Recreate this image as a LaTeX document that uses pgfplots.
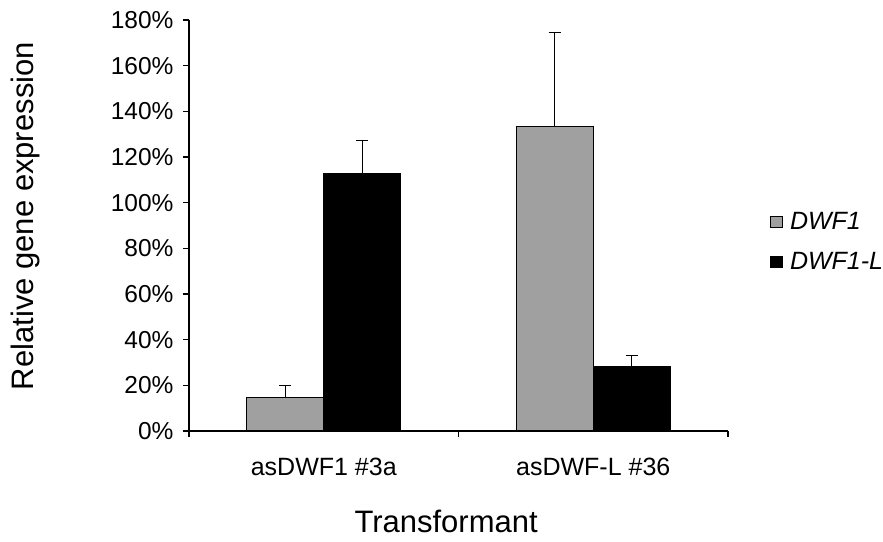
\documentclass[border=0pt]{standalone}
\usepackage{fontspec}
\setmainfont{Liberation Sans}
\usepackage{pgfplots}
\pgfplotsset{compat=1.18}
\definecolor{barGray}{RGB}{160,160,160}
\begin{document}
\begin{tikzpicture}
\useasboundingbox (0,0) rectangle (883pt,541pt);
\begin{axis}[
    at={(189pt,110pt)}, anchor=south west,
    width=539pt, height=411pt, scale only axis,
    axis lines=left,
    axis line style={-, line width=1.2pt},
    xmin=-0.5, xmax=1.5, ymin=0, ymax=180,
    ybar=0pt, bar width=0.286,
    ytick={0,20,...,180},
    yticklabels={0\%,20\%,40\%,60\%,80\%,100\%,120\%,140\%,160\%,180\%},
    xtick={-0.5,0.5,1.5}, xticklabels={,,},
    extra x ticks={0,1},
    extra x tick labels={asDWF1 \#3a,asDWF-L \#36},
    extra x tick style={major tick length=0pt},
    tick align=outside, major tick length=6pt,
    tick style={black, line width=1.2pt},
    yticklabel style={font=\fontsize{24.5}{29}\selectfont, xshift=-6pt},
    xticklabel style={font=\fontsize{25}{30}\selectfont, yshift=-24pt},
    ylabel={Relative gene expression},
    ylabel style={font=\fontsize{31}{37}\selectfont, at={(axis description cs:-0.304,0.523)}, anchor=center},
    xlabel={Transformant},
    xlabel style={font=\fontsize{31}{37}\selectfont, at={(axis description cs:0.477,-0.221)}, anchor=center},
    legend style={at={(1.078,0.532)}, anchor=north west, draw=none, fill=none,
        inner sep=0pt, row sep=21pt, column sep=7pt,
        font=\itshape\fontsize{25}{30}\selectfont, nodes={inner sep=0pt}},
    legend cell align=left,
    legend image code/.code={\draw[#1, line width=0.8pt] (0pt,-5.5pt) rectangle (12pt,5.5pt);},
    error bars/y dir=plus, error bars/y explicit,
    error bars/error bar style={black, line width=1.2pt},
    error bars/error mark options={black, rotate=90, mark size=6pt, line width=1.2pt},
]
% DWF1
\addplot[fill=barGray, draw=black, line width=1.2pt, bar shift=-0.143]
    coordinates {(0,14.6) +- (0,5.3) (1,133.2) +- (0,41.3)};
% DWF1-L
\addplot[fill=black, draw=black, line width=1.2pt, bar shift=0.143]
    coordinates {(0,112.6) +- (0,14.8) (1,28.1) +- (0,5.1)};
\legend{DWF1, DWF1-L}
\end{axis}
\end{tikzpicture}
\end{document}
